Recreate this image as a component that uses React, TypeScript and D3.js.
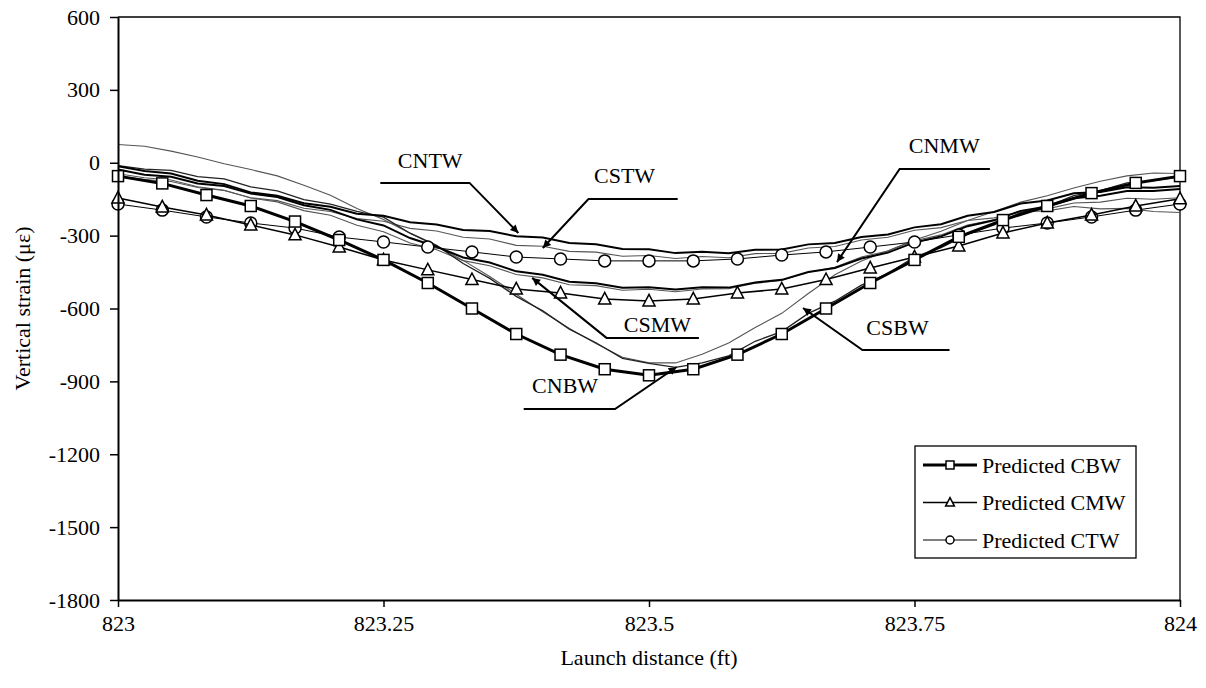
import React, { useRef, useEffect } from 'react'
import { select, scaleLinear, axisLeft, axisBottom, line } from 'd3'

// predicted curves (markers every 1/24 ft)
const predX = [823, 823.0417, 823.0833, 823.125, 823.1667, 823.2083, 823.25, 823.2917, 823.3333, 823.375, 823.4167, 823.4583, 823.5,
  823.5417, 823.5833, 823.625, 823.6667, 823.7083, 823.75, 823.7917, 823.8333, 823.875, 823.9167, 823.9583, 824]
const predCBW = [-55, -85, -133, -178, -242, -318, -400, -495, -600, -705, -790, -850, -875, -850, -790, -705, -600, -495, -400, -305, -236, -178, -125, -83, -55]
const predCMW = [-145, -182, -215, -256, -297, -347, -400, -441, -481, -520, -536, -561, -569, -561, -536, -520, -481, -433, -388, -343, -289, -248, -215, -178, -148]
const predCTW = [-170, -195, -223, -248, -269, -306, -326, -347, -367, -388, -396, -404, -404, -404, -396, -380, -367, -347, -326, -297, -269, -248, -223, -195, -170]

// measured gauges
const measX = [823, 823.025, 823.05, 823.075, 823.1, 823.125, 823.15, 823.175, 823.2, 823.225, 823.25, 823.275, 823.3, 823.325,
  823.35, 823.375, 823.4, 823.425, 823.45, 823.475, 823.5, 823.525, 823.55, 823.575, 823.6, 823.625, 823.65, 823.675, 823.7,
  823.725, 823.75, 823.775, 823.8, 823.825, 823.85, 823.875, 823.9, 823.925, 823.95, 823.975, 824]
const CNTW = [-14, -34, -44, -74, -88, -122, -136, -167, -181, -210, -218, -245, -254, -277, -281, -303, -308, -330, -336, -355, -356,
  -372, -366, -373, -358, -357, -336, -330, -306, -295, -266, -253, -218, -203, -168, -155, -126, -120, -101, -103, -96]
const CSTW = [-55, -69, -77, -102, -114, -144, -156, -187, -201, -230, -241, -270, -281, -307, -314, -340, -344, -365, -368, -385, -382,
  -394, -386, -391, -374, -373, -351, -345, -318, -307, -278, -267, -238, -227, -201, -198, -180, -190, -188, -201, -205]
const CNMW = [-28, -49, -58, -85, -96, -127, -141, -175, -194, -233, -258, -310, -346, -390, -411, -447, -461, -490, -496, -515, -513,
  -522, -513, -514, -493, -482, -450, -433, -394, -370, -328, -303, -261, -237, -198, -180, -146, -136, -116, -116, -108]
const CSMW = [-45, -62, -71, -99, -113, -145, -161, -197, -216, -257, -284, -330, -358, -403, -424, -460, -474, -502, -506, -525, -521,
  -531, -520, -519, -496, -485, -451, -430, -388, -363, -321, -297, -256, -235, -201, -190, -166, -162, -146, -150, -144]
const CNBW = [75, 68, 48, 24, -4, -28, -54, -93, -134, -188, -234, -290, -344, -402, -468, -541, -614, -682, -744, -801, -824,
  -824, -788, -742, -678, -620, -538, -461, -404, -362, -318, -282, -238, -201, -162, -136, -104, -76, -54, -42, -44]
const CSBW = [-12, -26, -31, -57, -66, -99, -116, -152, -170, -200, -224, -290, -340, -415, -476, -550, -610, -685, -741, -805, -826,
  -842, -824, -795, -735, -695, -620, -570, -504, -456, -387, -350, -295, -256, -205, -180, -135, -115, -83, -74, -58]

const yTicks = [600, 300, 0, -300, -600, -900, -1200, -1500, -1800]
const xTicks = [823, 823.25, 823.5, 823.75, 824]
const xTickLabels = ['823', '823.25', '823.5', '823.75', '824']
const legendNames = ['Predicted CBW', 'Predicted CMW', 'Predicted CTW']

const FONT = '"Liberation Serif", "Times New Roman", serif'

export default function App() {
  const svgRef = useRef(null)
  const width = 1206
  const height = 688
  const margin = { top: 17, right: 26, bottom: 88, left: 118 }

  useEffect(() => {
    draw()
  }, [])

  const draw = () => {
    const svg = select(svgRef.current)
    svg.selectAll('*').remove()

    const x = scaleLinear().domain([823, 824]).range([margin.left, width - margin.right])
    const y = scaleLinear().domain([-1800, 600]).range([height - margin.bottom, margin.top])

    svg.append('defs').append('marker')
      .attr('id', 'arrow')
      .attr('viewBox', '0 0 10 10')
      .attr('refX', 10).attr('refY', 5)
      .attr('markerWidth', 12).attr('markerHeight', 8)
      .attr('markerUnits', 'userSpaceOnUse')
      .attr('orient', 'auto')
      .append('path').attr('d', 'M0,0 L10,5 L0,10 z').attr('fill', '#000')

    // frame (top + right)
    svg.append('path')
      .attr('d', `M${x(823)},${y(600)} H${x(824)} V${y(-1800)}`)
      .attr('fill', 'none').attr('stroke', '#000').attr('stroke-width', 1.3)

    const mline = line<number>().x((d, i) => x(measX[i])).y(d => y(d))
    const measured = [
      { v: CSTW, c: '#555', w: 1.1 },
      { v: CSMW, c: '#555', w: 1.1 },
      { v: CNBW, c: '#555', w: 1.1 },
      { v: CSBW, c: '#222', w: 1.3 },
      { v: CNMW, c: '#000', w: 2 },
      { v: CNTW, c: '#000', w: 2 },
    ]
    svg.append('g').selectAll('path').data(measured).join('path')
      .attr('d', d => mline(d.v))
      .attr('fill', 'none')
      .attr('stroke', d => d.c)
      .attr('stroke-width', d => d.w)

    const pline = line<number>().x((d, i) => x(predX[i])).y(d => y(d))
    const predicted = [
      { v: predCTW, w: 1, m: 'circle' },
      { v: predCMW, w: 1.5, m: 'triangle' },
      { v: predCBW, w: 3, m: 'square' },
    ]

    const drawMarker = (g, kind, cx, cy, s) => {
      if (kind === 'square') {
        g.append('rect').attr('x', cx - s / 2).attr('y', cy - s / 2).attr('width', s).attr('height', s)
          .attr('fill', '#fff').attr('stroke', '#000').attr('stroke-width', 1.5)
      } else if (kind === 'triangle') {
        g.append('path')
          .attr('d', `M${cx},${cy - s * 0.6} L${cx + s * 0.55},${cy + s * 0.45} L${cx - s * 0.55},${cy + s * 0.45} Z`)
          .attr('fill', '#fff').attr('stroke', '#000').attr('stroke-width', 1.5)
      } else {
        g.append('circle').attr('cx', cx).attr('cy', cy).attr('r', s / 2)
          .attr('fill', '#fff').attr('stroke', '#000').attr('stroke-width', 1.5)
      }
    }

    predicted.forEach(p => {
      const g = svg.append('g')
      g.append('path').attr('d', pline(p.v)).attr('fill', 'none').attr('stroke', '#000').attr('stroke-width', p.w)
      p.v.forEach((v, i) => drawMarker(g, p.m, x(predX[i]), y(v), p.m === 'circle' ? 12 : 11))
    })

    // axes
    const yAxis = svg.append('g')
      .attr('transform', `translate(${margin.left},0)`)
      .call(axisLeft(y).tickValues(yTicks).tickFormat(d => String(d)).tickSize(8).tickSizeOuter(0).tickPadding(10))
    yAxis.select('.domain').attr('stroke-width', 2)
    yAxis.selectAll('.tick line').attr('stroke-width', 1.5)
    yAxis.selectAll('text').attr('font-family', FONT).attr('font-size', 22).attr('fill', '#000')

    const xAxis = svg.append('g')
      .attr('transform', `translate(0,${height - margin.bottom})`)
      .call(axisBottom(x).tickValues(xTicks).tickFormat((d, i) => xTickLabels[i]).tickSize(7).tickSizeOuter(0).tickPadding(8))
    xAxis.select('.domain').attr('stroke-width', 2)
    xAxis.selectAll('.tick line').attr('stroke-width', 1.5)
    xAxis.selectAll('text').attr('font-family', FONT).attr('font-size', 22).attr('fill', '#000')

    svg.append('text')
      .attr('x', (x(823) + x(824)) / 2).attr('y', 665)
      .attr('text-anchor', 'middle')
      .attr('font-family', FONT).attr('font-size', 22)
      .text('Launch distance (ft)')

    svg.append('text')
      .attr('transform', `translate(30,${(y(600) + y(-1800)) / 2}) rotate(-90)`)
      .attr('text-anchor', 'middle')
      .attr('font-family', FONT).attr('font-size', 22)
      .text('Vertical strain (\u03bc\u03b5)')

    // callouts
    const callouts = [
      { t: 'CNTW', tx: 823.294, ty: -22, pts: [[823.247, -83], [823.331, -83], [823.377, -289]] },
      { t: 'CSTW', tx: 823.477, ty: -83, pts: [[823.527, -149], [823.443, -149], [823.4, -351]] },
      { t: 'CNMW', tx: 823.778, ty: 40, pts: [[823.821, -26], [823.736, -26], [823.677, -409]] },
      { t: 'CSMW', tx: 823.508, ty: -697, pts: [[823.547, -721], [823.46, -721], [823.39, -474]] },
      { t: 'CNBW', tx: 823.421, ty: -948, pts: [[823.382, -1014], [823.468, -1014], [823.526, -841]] },
      { t: 'CSBW', tx: 823.734, ty: -709, pts: [[823.783, -771], [823.701, -771], [823.645, -598]] },
    ]
    const cg = svg.append('g')
    callouts.forEach(c => {
      cg.append('text')
        .attr('x', x(c.tx)).attr('y', y(c.ty))
        .attr('text-anchor', 'middle')
        .attr('font-family', FONT).attr('font-size', 22)
        .text(c.t)
      cg.append('path')
        .attr('d', line()(c.pts.map(p => [x(p[0]), y(p[1])])))
        .attr('fill', 'none').attr('stroke', '#000').attr('stroke-width', 2)
        .attr('marker-end', 'url(#arrow)')
    })

    // legend
    const lg = svg.append('g')
    lg.append('rect').attr('x', 915).attr('y', 446).attr('width', 221).attr('height', 112)
      .attr('fill', '#fff').attr('stroke', '#000').attr('stroke-width', 1.3)
    const legendStyle = [{ w: 3, m: 'square' }, { w: 1.5, m: 'triangle' }, { w: 1, m: 'circle' }]
    legendNames.forEach((name, i) => {
      const ly = 465 + i * 37.5
      lg.append('line').attr('x1', 923).attr('x2', 977).attr('y1', ly).attr('y2', ly)
        .attr('stroke', '#000').attr('stroke-width', legendStyle[i].w)
      drawMarker(lg, legendStyle[i].m, 950, ly, 8)
      lg.append('text').attr('x', 982).attr('y', ly).attr('dy', '0.35em')
        .attr('font-family', FONT).attr('font-size', 22)
        .text(name)
    })
  }

  return (
    <svg ref={svgRef} width={width} height={height}
      style={{ position: 'absolute', left: 0, top: 0, background: '#fff' }}></svg>
  )
}
